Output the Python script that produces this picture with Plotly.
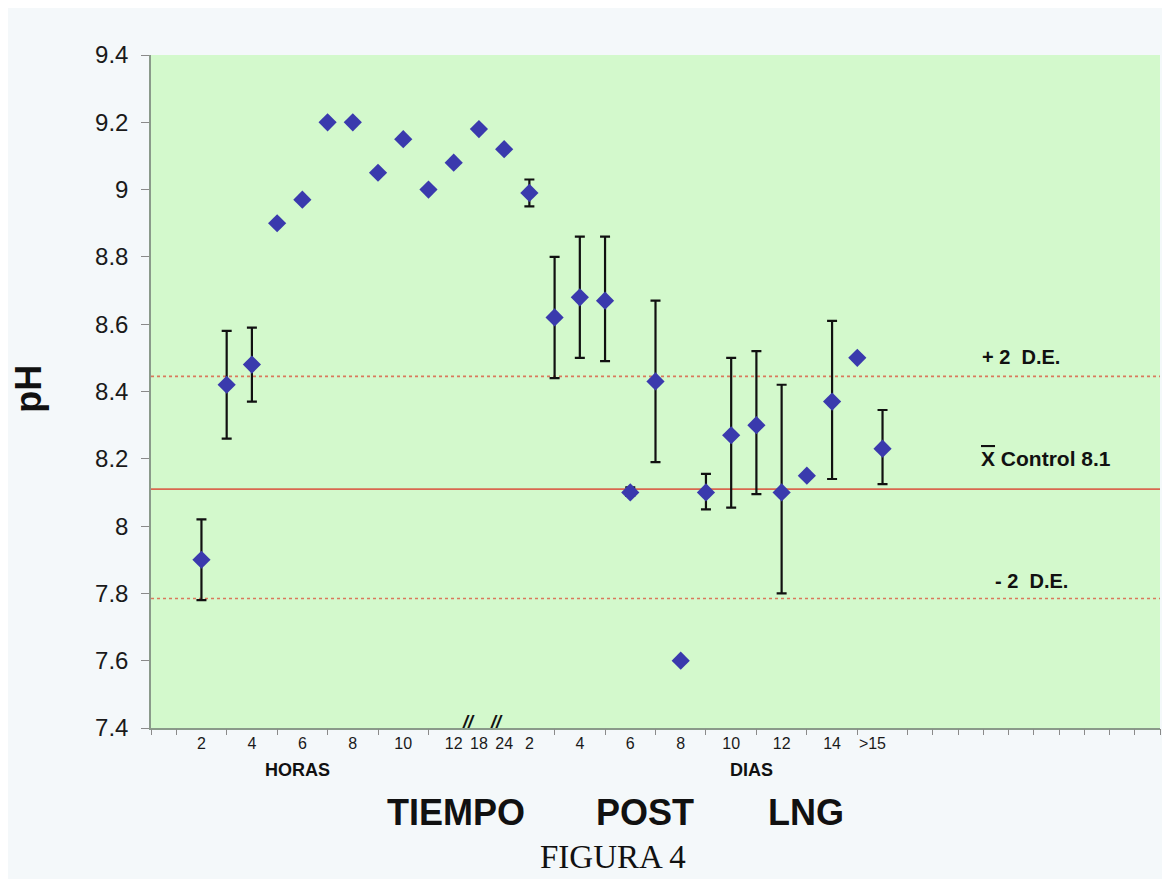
import plotly.graph_objects as go

# ---- data ----
x_pos = [2, 3, 4, 5, 6, 7, 8, 9, 10, 11, 12, 13, 14, 15, 16, 17, 18, 19, 20,
         21, 22, 23, 24, 25, 26, 27, 28, 29]
ph_mean = [7.90, 8.42, 8.48, 8.90, 8.97, 9.20, 9.20, 9.05, 9.15, 9.00, 9.08,
           9.18, 9.12, 8.99, 8.62, 8.68, 8.67, 8.10, 8.43, 7.60, 8.10, 8.27,
           8.30, 8.10, 8.15, 8.37, 8.50, 8.23]
ph_hi = [8.02, 8.58, 8.59, None, None, None, None, None, None, None, None,
         None, None, 9.03, 8.80, 8.86, 8.86, 8.115, 8.67, None, 8.155, 8.50,
         8.52, 8.42, None, 8.61, None, 8.345]
ph_lo = [7.78, 8.26, 8.37, None, None, None, None, None, None, None, None,
         None, None, 8.95, 8.44, 8.50, 8.49, 8.09, 8.19, None, 8.05, 8.055,
         8.095, 7.80, None, 8.14, None, 8.125]

label_pos = [2, 4, 6, 8, 10, 12, 13, 14, 15, 17, 19, 21, 23, 25, 27, 28.6]
label_txt = ["2", "4", "6", "8", "10", "12", "18", "24", "2", "4", "6", "8",
             "10", "12", "14", ">15"]
tick_pos = [0, 1, 3, 5, 7, 9, 11, 16, 18, 20, 22, 24, 26, 28, 30, 31, 32, 33,
            34, 35, 36, 37, 38, 39, 40]
break_pos = [12.6, 13.7]

y_ticks = [7.4, 7.6, 7.8, 8.0, 8.2, 8.4, 8.6, 8.8, 9.0, 9.2, 9.4]
y_ticktext = ["7.4", "7.6", "7.8", "8", "8.2", "8.4", "8.6", "8.8", "9", "9.2", "9.4"]

control_mean = 8.11
plus_2de = 8.445
minus_2de = 7.785

err_plus = [None if h is None else round(h - m, 4) for h, m in zip(ph_hi, ph_mean)]
err_minus = [None if l is None else round(m - l, 4) for l, m in zip(ph_lo, ph_mean)]

X_RANGE = [0, 40]
Y_RANGE = [7.4, 9.4]

fig = go.Figure()

fig.add_trace(go.Scatter(
    x=x_pos, y=ph_mean, mode="markers",
    marker=dict(symbol="diamond", size=14, color="#3a3aad",
                line=dict(width=0)),
    error_y=dict(type="data", symmetric=False, array=err_plus,
                 arrayminus=err_minus, color="#111111", thickness=2.2,
                 width=5),
    showlegend=False, hoverinfo="skip",
))

# invisible trace for the tick-only overlay axis
fig.add_trace(go.Scatter(x=[X_RANGE[0]], y=[Y_RANGE[0]], xaxis="x2",
                         mode="markers", marker=dict(opacity=0),
                         showlegend=False, hoverinfo="skip"))

red = "#d9674f"
fig.add_hline(y=control_mean, line=dict(color=red, width=1.6), layer="below")
fig.add_hline(y=plus_2de, line=dict(color="#d97a5c", width=1.6, dash="dot"), layer="below")
fig.add_hline(y=minus_2de, line=dict(color="#d97a5c", width=1.6, dash="dot"), layer="below")

fig.update_layout(
    width=1162, height=871,
    margin=dict(l=143, r=10, t=47, b=151),
    paper_bgcolor="#f4f8fa",
    plot_bgcolor="#d3f9cc",
    font=dict(family="Arial, Liberation Sans, sans-serif", color="#1a1a1a"),
    xaxis=dict(range=X_RANGE, tickvals=label_pos, ticktext=label_txt,
               ticks="", showgrid=False, zeroline=False, showline=True,
               linecolor="#8a9a8a", linewidth=1.5,
               tickfont=dict(size=16, color="#1a1a1a")),
    xaxis2=dict(range=X_RANGE, overlaying="x", anchor="y", side="bottom",
                tickvals=tick_pos, ticks="outside", ticklen=6, tickwidth=1,
                tickcolor="#8a8a8a", showticklabels=False, showgrid=False,
                zeroline=False, showline=False),
    yaxis=dict(range=Y_RANGE, tickvals=y_ticks, ticktext=y_ticktext,
               ticks="outside", ticklen=8, tickcolor="#8a8a8a", tickwidth=1,
               showgrid=False, zeroline=False, showline=True,
               linecolor="#8a9a8a", linewidth=1.5, ticklabelstandoff=8,
               tickfont=dict(size=24, color="#1a1a1a")),
)

def ann(x, y, text, size, xref="x", yref="y", **kw):
    d = dict(x=x, y=y, xref=xref, yref=yref, text=text, showarrow=False,
             xanchor="center", yanchor="middle",
             font=dict(size=size, color="#111"))
    d.update(kw)
    return d

annotations = []
for bp in break_pos:
    annotations.append(ann(bp, 0, "<b><i>//</i></b>", 18, yref="paper", yshift=6))

annotations += [
    ann(-0.121, 0.504, "<b>pH</b>", 36, xref="paper", yref="paper", textangle=-90),
    ann(34.5, 8.502, "<b>+ 2  D.E.</b>", 20),
    ann(35.5, 8.202,
        "<b><span style='text-decoration:overline'>X</span> Control 8.1</b>", 21),
    ann(34.9, 7.837, "<b>- 2  D.E.</b>", 20),
    ann(5.8, -0.0624, "<b>HORAS</b>", 18, yref="paper"),
    ann(23.8, -0.0624, "<b>DIAS</b>", 18, yref="paper"),
    ann(12.1, -0.126, "<b>TIEMPO</b>", 36, yref="paper"),
    ann(19.6, -0.126, "<b>POST</b>", 36, yref="paper"),
    ann(25.95, -0.126, "<b>LNG</b>", 36, yref="paper"),
]
fig_label = ann(18.33, -0.192, "FIGURA 4", 33, yref="paper")
fig_label["font"]["family"] = "Times New Roman, Liberation Serif, serif"
annotations.append(fig_label)
fig.update_layout(annotations=annotations)

fig.write_html("out.html")
